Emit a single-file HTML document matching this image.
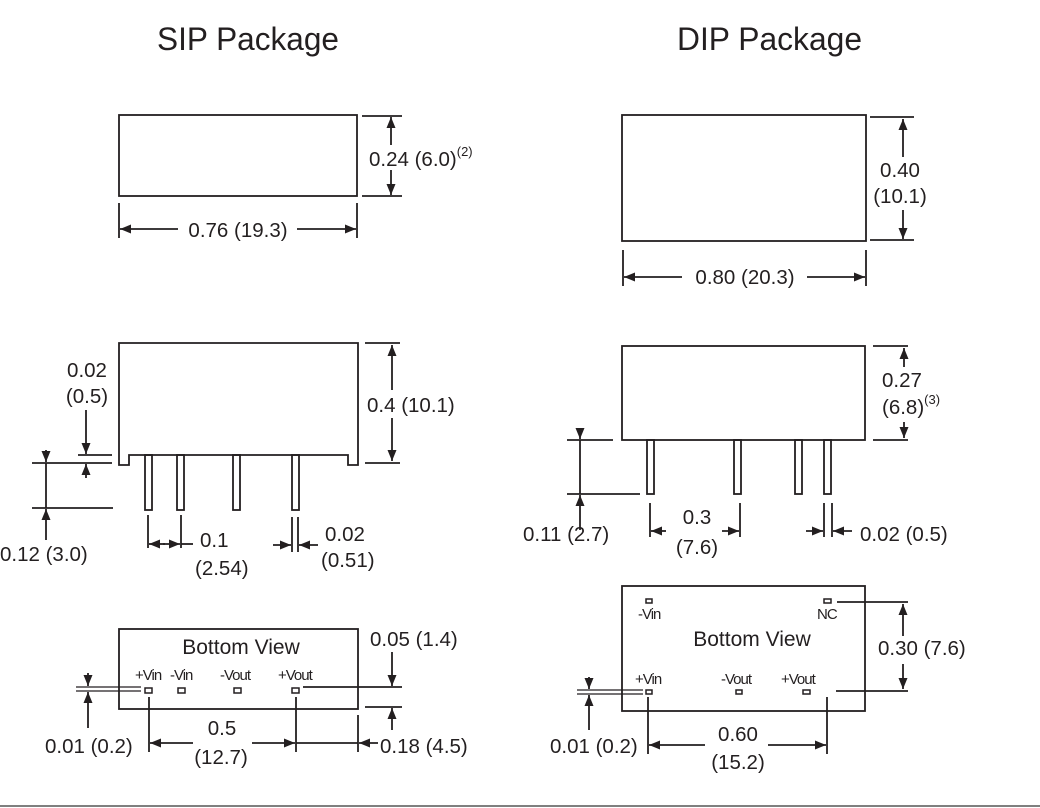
<!DOCTYPE html>
<html><head><meta charset="utf-8"><style>
html,body{margin:0;padding:0;background:#fff}
svg{display:block}
text{font-family:"Liberation Sans",Arial,sans-serif;fill:#231f20}
.d{font-size:20.5px}
.p{font-size:15px;letter-spacing:-1px}
</style></head><body>
<svg width="1040" height="808" viewBox="0 0 1040 808" xmlns="http://www.w3.org/2000/svg">
<defs>
<marker id="a" markerUnits="userSpaceOnUse" markerWidth="12" markerHeight="10" refX="11" refY="4.5" orient="auto">
<path d="M0,0 L11,4.5 L0,9 z" fill="#231f20"/></marker>
</defs>
<g stroke="#231f20" stroke-width="1.8" fill="none">
<!-- SIP top -->
<rect x="119" y="115" width="238" height="81"/>
<line x1="362" y1="116" x2="402" y2="116"/>
<line x1="362" y1="196" x2="402" y2="196"/>
<line x1="391" y1="145" x2="391" y2="117" marker-end="url(#a)"/>
<line x1="391" y1="170" x2="391" y2="195" marker-end="url(#a)"/>
<line x1="119" y1="203" x2="119" y2="238"/>
<line x1="357" y1="203" x2="357" y2="238"/>
<line x1="178" y1="229" x2="120" y2="229" marker-end="url(#a)"/>
<line x1="297" y1="229" x2="356" y2="229" marker-end="url(#a)"/>
<!-- SIP middle -->
<path d="M119,343 H358 V465 H348 V455 H129 V465 H119 Z"/>
<rect x="145" y="455" width="7" height="55"/>
<rect x="177" y="455" width="7" height="55"/>
<rect x="233" y="455" width="7" height="55"/>
<rect x="292" y="455" width="7" height="55"/>
<line x1="365" y1="343" x2="400" y2="343"/>
<line x1="365" y1="463" x2="400" y2="463"/>
<line x1="392" y1="390" x2="392" y2="345" marker-end="url(#a)"/>
<line x1="392" y1="418" x2="392" y2="461" marker-end="url(#a)"/>
<line x1="78" y1="455" x2="112" y2="455"/>
<line x1="32" y1="463" x2="112" y2="463"/>
<line x1="32" y1="508" x2="113" y2="508"/>
<line x1="86" y1="410" x2="86" y2="454" marker-end="url(#a)"/>
<line x1="86" y1="478" x2="86" y2="464" marker-end="url(#a)"/>
<line x1="46" y1="450" x2="46" y2="462" marker-end="url(#a)"/>
<line x1="46" y1="463" x2="46" y2="508"/>
<line x1="46" y1="540" x2="46" y2="509" marker-end="url(#a)"/>
<line x1="148" y1="515" x2="148" y2="548"/>
<line x1="181" y1="515" x2="181" y2="548"/>
<line x1="165" y1="544" x2="149" y2="544" marker-end="url(#a)"/>
<line x1="163" y1="544" x2="180" y2="544" marker-end="url(#a)"/>
<line x1="181" y1="544" x2="193" y2="544"/>
<line x1="292" y1="517" x2="292" y2="552"/>
<line x1="298" y1="517" x2="298" y2="552"/>
<line x1="273" y1="545" x2="291" y2="545" marker-end="url(#a)"/>
<line x1="318" y1="545" x2="299" y2="545" marker-end="url(#a)"/>
<!-- SIP bottom -->
<rect x="119" y="629" width="239" height="80"/>
<rect x="145" y="688" width="7" height="5" stroke-width="1.5"/>
<rect x="178" y="688" width="7" height="5" stroke-width="1.5"/>
<rect x="234" y="688" width="7" height="5" stroke-width="1.5"/>
<rect x="292" y="688" width="7" height="5" stroke-width="1.5"/>
<line x1="76" y1="687" x2="141" y2="687" stroke-width="1.3"/>
<line x1="76" y1="691" x2="141" y2="691" stroke-width="1.3"/>
<line x1="88" y1="673" x2="88" y2="686" marker-end="url(#a)"/>
<line x1="88" y1="728" x2="88" y2="692" marker-end="url(#a)"/>
<line x1="303" y1="687" x2="402" y2="687"/>
<line x1="365" y1="707" x2="402" y2="707"/>
<line x1="392" y1="652" x2="392" y2="686" marker-end="url(#a)"/>
<line x1="392" y1="730" x2="392" y2="708" marker-end="url(#a)"/>
<line x1="149" y1="697" x2="149" y2="752"/>
<line x1="296" y1="697" x2="296" y2="752"/>
<line x1="358" y1="715" x2="358" y2="752"/>
<line x1="193" y1="743" x2="150" y2="743" marker-end="url(#a)"/>
<line x1="252" y1="743" x2="295" y2="743" marker-end="url(#a)"/>
<line x1="296" y1="743" x2="358" y2="743"/>
<line x1="378" y1="743" x2="359" y2="743" marker-end="url(#a)"/>
<!-- DIP top -->
<rect x="622" y="115" width="244" height="126"/>
<line x1="870" y1="117" x2="914" y2="117"/>
<line x1="870" y1="240" x2="914" y2="240"/>
<line x1="903" y1="157" x2="903" y2="119" marker-end="url(#a)"/>
<line x1="903" y1="210" x2="903" y2="239" marker-end="url(#a)"/>
<line x1="623" y1="250" x2="623" y2="286"/>
<line x1="866" y1="250" x2="866" y2="286"/>
<line x1="682" y1="277" x2="624" y2="277" marker-end="url(#a)"/>
<line x1="807" y1="277" x2="865" y2="277" marker-end="url(#a)"/>
<!-- DIP middle -->
<rect x="622" y="346" width="243" height="94"/>
<rect x="647" y="440" width="7" height="54"/>
<rect x="734" y="440" width="7" height="54"/>
<rect x="795" y="440" width="7" height="54"/>
<rect x="824" y="440" width="7" height="54"/>
<line x1="873" y1="346" x2="908" y2="346"/>
<line x1="873" y1="440" x2="908" y2="440"/>
<line x1="904" y1="367" x2="904" y2="348" marker-end="url(#a)"/>
<line x1="904" y1="422" x2="904" y2="438" marker-end="url(#a)"/>
<line x1="567" y1="440" x2="613" y2="440"/>
<line x1="567" y1="494" x2="640" y2="494"/>
<line x1="580" y1="430" x2="580" y2="439" marker-end="url(#a)"/>
<line x1="580" y1="440" x2="580" y2="494"/>
<line x1="580" y1="530" x2="580" y2="495" marker-end="url(#a)"/>
<line x1="650" y1="503" x2="650" y2="537"/>
<line x1="740" y1="503" x2="740" y2="537"/>
<line x1="666" y1="531" x2="651" y2="531" marker-end="url(#a)"/>
<line x1="722" y1="531" x2="739" y2="531" marker-end="url(#a)"/>
<line x1="824" y1="503" x2="824" y2="537"/>
<line x1="832" y1="503" x2="832" y2="537"/>
<line x1="806" y1="531" x2="823" y2="531" marker-end="url(#a)"/>
<line x1="852" y1="531" x2="833" y2="531" marker-end="url(#a)"/>
<!-- DIP bottom -->
<rect x="622" y="586" width="243" height="125"/>
<rect x="646" y="599" width="6" height="4" stroke-width="1.5"/>
<rect x="824" y="599" width="7" height="4" stroke-width="1.5"/>
<rect x="646" y="690" width="6" height="4" stroke-width="1.5"/>
<rect x="736" y="690" width="6" height="4" stroke-width="1.5"/>
<rect x="803" y="690" width="7" height="4" stroke-width="1.5"/>
<line x1="837" y1="602" x2="908" y2="602"/>
<line x1="836" y1="691" x2="908" y2="691"/>
<line x1="903" y1="636" x2="903" y2="604" marker-end="url(#a)"/>
<line x1="903" y1="664" x2="903" y2="689" marker-end="url(#a)"/>
<line x1="577" y1="690" x2="643" y2="690" stroke-width="1.3"/>
<line x1="577" y1="694" x2="643" y2="694" stroke-width="1.3"/>
<line x1="589" y1="677" x2="589" y2="689" marker-end="url(#a)"/>
<line x1="589" y1="730" x2="589" y2="695" marker-end="url(#a)"/>
<line x1="648" y1="697" x2="648" y2="754"/>
<line x1="827" y1="697" x2="827" y2="754"/>
<line x1="705" y1="745" x2="649" y2="745" marker-end="url(#a)"/>
<line x1="768" y1="745" x2="826" y2="745" marker-end="url(#a)"/>
</g>
<line x1="0" y1="806" x2="1040" y2="806" stroke="#555" stroke-width="1.5"/>

<text x="157" y="50" font-size="32" textLength="182" lengthAdjust="spacingAndGlyphs">SIP Package</text>
<text x="677" y="50" font-size="32" textLength="185" lengthAdjust="spacingAndGlyphs">DIP Package</text>

<g class="d">
<text x="369" y="166">0.24 (6.0)<tspan font-size="13" dy="-10">(2)</tspan></text>
<text x="238" y="237" text-anchor="middle">0.76 (19.3)</text>
<text x="87" y="377" text-anchor="middle">0.02</text>
<text x="87" y="403" text-anchor="middle">(0.5)</text>
<text x="367" y="412">0.4 (10.1)</text>
<text x="0" y="561">0.12 (3.0)</text>
<text x="200" y="547">0.1</text>
<text x="195" y="575">(2.54)</text>
<text x="325" y="541">0.02</text>
<text x="321" y="567">(0.51)</text>
<text x="370" y="646">0.05 (1.4)</text>
<text x="45" y="753">0.01 (0.2)</text>
<text x="222" y="735" text-anchor="middle">0.5</text>
<text x="221" y="764" text-anchor="middle">(12.7)</text>
<text x="380" y="753">0.18 (4.5)</text>

<text x="900" y="177" text-anchor="middle">0.40</text>
<text x="900" y="203" text-anchor="middle">(10.1)</text>
<text x="745" y="284" text-anchor="middle">0.80 (20.3)</text>
<text x="882" y="387">0.27</text>
<text x="882" y="414">(6.8)<tspan font-size="13" dy="-10">(3)</tspan></text>
<text x="523" y="541">0.11 (2.7)</text>
<text x="697" y="524" text-anchor="middle">0.3</text>
<text x="697" y="554" text-anchor="middle">(7.6)</text>
<text x="860" y="541">0.02 (0.5)</text>
<text x="878" y="655">0.30 (7.6)</text>
<text x="550" y="753">0.01 (0.2)</text>
<text x="738" y="741" text-anchor="middle">0.60</text>
<text x="738" y="769" text-anchor="middle">(15.2)</text>
</g>
<text x="241" y="654" text-anchor="middle" font-size="21">Bottom View</text>
<text x="752" y="646" text-anchor="middle" font-size="21">Bottom View</text>
<g class="p">
<text x="135" y="680">+Vin</text>
<text x="170" y="680">-Vin</text>
<text x="220" y="680">-Vout</text>
<text x="278" y="680">+Vout</text>
<text x="638" y="619">-Vin</text>
<text x="817" y="619">NC</text>
<text x="635" y="684">+Vin</text>
<text x="721" y="684">-Vout</text>
<text x="781" y="684">+Vout</text>
</g>
</svg>
</body></html>
